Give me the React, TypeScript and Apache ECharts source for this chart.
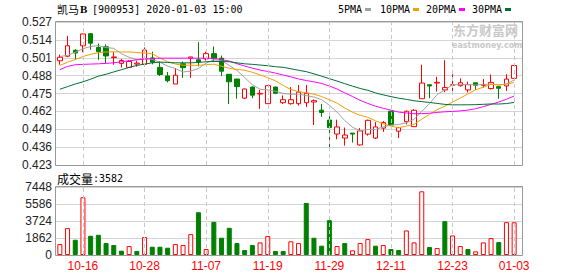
import React, { useEffect, useRef } from "react";
import * as echarts from "echarts";

const dates = [
  "10-11","10-14","10-15","10-16","10-17","10-18","10-21","10-22","10-23","10-24",
  "10-25","10-28","10-29","10-30","10-31","11-01","11-04","11-05","11-06","11-07",
  "11-08","11-11","11-12","11-13","11-14","11-15","11-18","11-19","11-20","11-21",
  "11-22","11-25","11-26","11-27","11-28","11-29","12-02","12-03","12-04","12-05",
  "12-06","12-09","12-10","12-11","12-12","12-13","12-16","12-17","12-18","12-19",
  "12-20","12-23","12-24","12-25","12-26","12-27","12-30","12-31","01-02","01-03",
];
const tickDates = ["10-16","10-28","11-07","11-19","11-29","12-11","12-23","01-03"];

const opens = [
  0.4988,0.5021,0.5064,0.5097,0.5185,0.5085,0.5090,0.5011,0.4969,0.4940,
  0.4964,0.4962,0.5009,0.4940,0.4878,0.4819,0.4966,0.5007,0.4995,0.5002,
  0.5040,0.5007,0.4890,0.4855,0.4716,0.4797,0.4746,0.4676,0.4797,0.4683,
  0.4676,0.4676,0.4683,0.4688,0.4629,0.4557,0.4455,0.4426,0.4462,0.4376,
  0.4455,0.4426,0.4498,0.4621,0.4476,0.4545,0.4509,0.4712,0.4814,0.4826,
  0.4776,0.4810,0.4807,0.4776,0.4828,0.4810,0.4786,0.4800,0.4805,0.4860,
];
const closes = [
  0.5014,0.5097,0.5045,0.5183,0.5116,0.5054,0.5023,0.5016,0.4990,0.4983,
  0.4971,0.5066,0.4978,0.4888,0.4843,0.4883,0.4938,0.5016,0.4980,0.5040,
  0.5002,0.4912,0.4835,0.4800,0.4783,0.4738,0.4751,0.4807,0.4752,0.4705,
  0.4705,0.4760,0.4752,0.4698,0.4612,0.4502,0.4507,0.4448,0.4455,0.4478,
  0.4555,0.4507,0.4538,0.4521,0.4502,0.4621,0.4628,0.4826,0.4805,0.4831,
  0.4793,0.4814,0.4828,0.4814,0.4810,0.4814,0.4831,0.4788,0.4855,0.4954,
];
const lows = [
  0.4959,0.5014,0.4997,0.5050,0.5069,0.4995,0.4966,0.4959,0.4938,0.4938,
  0.4945,0.4959,0.4962,0.4878,0.4831,0.4819,0.4864,0.4864,0.4947,0.4990,
  0.4978,0.4878,0.4674,0.4712,0.4709,0.4716,0.4638,0.4674,0.4745,0.4674,
  0.4669,0.4662,0.4652,0.4521,0.4581,0.4331,0.4417,0.4371,0.4393,0.4371,
  0.4443,0.4419,0.4471,0.4514,0.4426,0.4526,0.4507,0.4712,0.4716,0.4764,
  0.4759,0.4764,0.4800,0.4757,0.4776,0.4793,0.4779,0.4712,0.4769,0.4857,
];
const highs = [
  0.5033,0.5169,0.5073,0.5185,0.5188,0.5114,0.5107,0.5050,0.5002,0.4993,
  0.4988,0.5085,0.5054,0.4983,0.4907,0.4935,0.4983,0.5016,0.5123,0.5054,
  0.5092,0.5026,0.4890,0.4857,0.4785,0.4800,0.4776,0.4809,0.4800,0.4736,
  0.4797,0.4812,0.4812,0.4707,0.4674,0.4585,0.4560,0.4502,0.4462,0.4498,
  0.4560,0.4543,0.4550,0.4621,0.4507,0.4626,0.4636,0.4959,0.4814,0.4871,
  0.4992,0.4890,0.4860,0.4836,0.4828,0.4855,0.4888,0.4800,0.4890,0.4954,
];
const volumes = [
  1199,2943,1671,6322,2107,2216,1308,1090,472,981,
  436,1962,908,908,799,1199,1090,2289,4687,654,
  3633,1889,2979,1308,545,1090,1381,2071,436,436,
  1500,1308,5704,1889,1017,3815,981,1308,509,1308,
  1744,1017,1090,654,545,2689,1381,6976,872,763,
  3706,2144,981,654,400,1381,1853,1417,3600,3582,
];
// 1 = red (hollow) volume bar, 0 = green (filled)
const volUp = [
  1,1,0,1,0,0,0,0,0,1,
  0,1,0,0,0,1,1,1,0,1,
  0,0,0,0,0,0,1,1,0,0,
  1,1,0,0,0,0,1,0,1,1,
  1,0,1,0,0,1,1,1,0,1,
  0,1,1,0,1,1,1,0,1,1,
];
// MA values before enough days are on the chart
const ma5Lead = [0.5019,0.5028,0.5050,0.5076];
const ma10Lead = [0.4954,0.4978,0.4997,0.5019,0.5035,0.5047,0.5052,0.5054,0.5052];
const ma20Lead = [0.4923,0.4947,0.4959,0.4962,0.4964,0.4966,0.4969,0.4973,0.4981,0.4988,
  0.4995,0.5000,0.5004,0.5007,0.5007,0.5007,0.5007,0.5007,0.5007];
const ma30Lead = [0.4781,0.4800,0.4819,0.4835,0.4854,0.4876,0.4890,0.4907,0.4923,0.4940,
  0.4954,0.4964,0.4973,0.4978,0.4976,0.4973,0.4973,0.4973,0.4976,0.4981,
  0.4983,0.4983,0.4981,0.4973,0.4966,0.4962,0.4957,0.4952,0.4945];

const priceTickLabels = ["0.423","0.436","0.449","0.462","0.475","0.488","0.501","0.514","0.527"];
const volTickMax = 7448;
const volTickStep = 1862;
const lastVolume = 3582;

const RED = "#ff0000";
const GREEN = "#008000";
const maColors = { ma5: "#a0a0a0", ma10: "#f0a000", ma20: "#ff00ff", ma30: "#006f35" };

function movingAverage(n: number, lead: number[]) {
  return closes.map((_, i) => {
    if (i < n - 1) return lead[i];
    let s = 0;
    for (let k = i - n + 1; k <= i; k++) s += closes[k];
    return +(s / n).toFixed(5);
  });
}

export default function App() {
  const ref = useRef<HTMLDivElement>(null);
  useEffect(() => {
    if (!ref.current) return;
    const chart = echarts.init(ref.current, null, { renderer: "svg" });
    const L = 56, R = 60, RB = 56;
    const T1 = 22, H1 = 143, T2 = 187, H2 = 68;
    const candleData = dates.map((_, i) => [opens[i], closes[i], lows[i], highs[i]]);
    const volData = volumes.map((v, i) => ({
      value: v,
      itemStyle: volUp[i]
        ? { color: "#ffffff", borderColor: RED, borderWidth: 1 }
        : { color: GREEN, borderColor: GREEN, borderWidth: 1 },
    }));
    const dashLine = (xi: number, yi: number) => ({
      type: "line",
      xAxisIndex: xi,
      yAxisIndex: yi,
      data: dates.map(() => null),
      symbol: "none",
      silent: true,
      z: 1,
      lineStyle: { opacity: 0 },
      markLine: {
        silent: true,
        symbol: ["none", "none"],
        label: { show: false },
        animation: false,
        lineStyle: { color: "#c8c8c8", type: [4, 3], width: 1 },
        data: tickDates.map((d) => ({ xAxis: d })),
      },
    });
    const maSeries = (name: string, data: number[], color: string) => ({
      name,
      type: "line",
      xAxisIndex: 0,
      yAxisIndex: 0,
      data,
      symbol: "none",
      smooth: false,
      z: 3,
      silent: true,
      lineStyle: { color, width: 1 },
    });
    const legendItems = [
      { label: "5PMA", x: 338, sq: 365, color: maColors.ma5 },
      { label: "10PMA", x: 380, sq: 413, color: maColors.ma10 },
      { label: "20PMA", x: 426, sq: 459, color: maColors.ma20 },
      { label: "30PMA", x: 472, sq: 505, color: maColors.ma30 },
    ];
    const mono = '10px "DejaVu Sans Mono", monospace';
    const cjk = '12px "Noto Sans CJK SC", sans-serif';
    const txt = (text: string, x: number, y: number, font: string, fill = "#000", extra: any = {}) => ({
      type: "text",
      x,
      y,
      z: 20,
      silent: true,
      style: { text, font, fill, textVerticalAlign: "middle", verticalAlign: "middle", ...extra },
    });
    const graphics: any[] = [
      txt("东方财富网", 453, 29, 'bold 13px "Noto Sans CJK SC", sans-serif', "#c8c8c8"),
      txt("eastmoney.com", 452, 45, 'bold 8px "DejaVu Sans", sans-serif', "#c8c8c8"),
      txt("凯马", 57, 9, '11px "Noto Sans CJK SC", sans-serif'),
      txt("B", 80, 9, 'bold 11px "Liberation Serif", serif'),
      txt("[900953] 2020-01-03 15:00", 92, 9, mono),
      txt("成交量", 57, 178, cjk),
      txt(":" + lastVolume, 93, 178, mono),
      ...legendItems.flatMap((it) => [
        txt(it.label, it.x, 9, mono),
        { type: "rect", z: 20, silent: true, shape: { x: it.sq, y: 8, width: 6, height: 3 }, style: { fill: it.color } },
      ]),
      {
        type: "rect", z: 30, silent: true,
        shape: { x: L - 0.5, y: T1 - 0.5, width: 578 - RB - L + 1, height: H1 + 1 },
        style: { fill: "none", stroke: "#999999", lineWidth: 1 },
      },
      {
        type: "rect", z: 30, silent: true,
        shape: { x: L - 0.5, y: T2 - 0.5, width: 578 - RB - L + 1, height: H2 + 1 },
        style: { fill: "none", stroke: "#999999", lineWidth: 1 },
      },
    ];
    const axisLabelFont = { fontSize: 12, color: "#222", fontFamily: '"Liberation Sans", Arial, sans-serif' };
    chart.setOption({
      animation: false,
      backgroundColor: "#ffffff",
      grid: [
        { left: L, right: R, top: T1, height: H1 },
        { left: L, right: R, top: T2, height: H2 },
        { left: L, right: RB, top: T1, height: H1 },
        { left: L, right: RB, top: T2, height: H2 },
      ],
      xAxis: [
        { type: "category", gridIndex: 0, data: dates, show: false, boundaryGap: true },
        {
          type: "category", gridIndex: 1, data: dates, boundaryGap: true,
          axisLine: { show: false }, axisTick: { show: false }, splitLine: { show: false },
          axisLabel: {
            interval: (idx: number) => tickDates.includes(dates[idx]),
            color: RED, fontSize: 12, margin: 5, fontFamily: '"Liberation Sans", Arial, sans-serif',
          },
        },
        { type: "value", gridIndex: 2, min: 0, max: 1, show: false },
        { type: "value", gridIndex: 3, min: 0, max: 1, show: false },
      ],
      yAxis: [
        { type: "value", gridIndex: 0, min: 0.423, max: 0.527, show: false },
        { type: "value", gridIndex: 1, min: 0, max: volTickMax, show: false },
        {
          type: "value", gridIndex: 2, min: 0, max: priceTickLabels.length - 1, interval: 1,
          axisLine: { show: false }, axisTick: { show: false },
          splitLine: { show: true, lineStyle: { color: "#d4d4d4", width: 1 } },
          axisLabel: { ...axisLabelFont, margin: 4, formatter: (v: number) => priceTickLabels[Math.round(v)] },
        },
        {
          type: "value", gridIndex: 3, min: 0, max: volTickMax, interval: volTickStep,
          axisLine: { show: false }, axisTick: { show: false },
          splitLine: { show: true, lineStyle: { color: "#d4d4d4", width: 1 } },
          axisLabel: { ...axisLabelFont, margin: 4, formatter: (v: number) => String(Math.round(v)) },
        },
      ],
      series: [
        dashLine(0, 0),
        dashLine(1, 1),
        {
          type: "candlestick",
          xAxisIndex: 0,
          yAxisIndex: 0,
          data: candleData,
          barWidth: 5,
          z: 2,
          silent: true,
          itemStyle: {
            color: "#ffffff",
            color0: GREEN,
            borderColor: RED,
            borderColor0: GREEN,
            borderWidth: 1,
          },
        },
        maSeries("5PMA", movingAverage(5, ma5Lead), maColors.ma5),
        maSeries("10PMA", movingAverage(10, ma10Lead), maColors.ma10),
        maSeries("20PMA", movingAverage(20, ma20Lead), maColors.ma20),
        maSeries("30PMA", movingAverage(30, ma30Lead), maColors.ma30),
        {
          type: "bar",
          xAxisIndex: 1,
          yAxisIndex: 1,
          data: volData,
          barWidth: 5,
          z: 2,
          silent: true,
        },
      ],
      graphic: graphics,
    });
    return () => chart.dispose();
  }, []);
  return (
    <div
      ref={ref}
      style={{ position: "absolute", left: 0, top: 0, width: 578, height: 276, background: "#fff" }}
    />
  );
}
